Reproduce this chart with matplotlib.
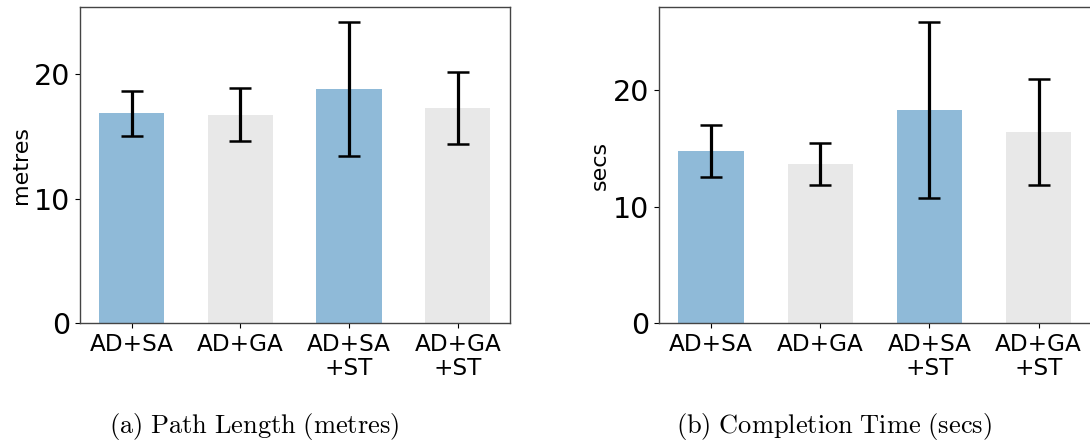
import matplotlib
matplotlib.use("Agg")
import matplotlib.pyplot as plt
import numpy as np

# Conditions compared in both panels
conditions = ["AD+SA", "AD+GA", "AD+SA\n+ST", "AD+GA\n+ST"]

# Path length (metres): mean and standard deviation
path_mean = [16.85, 16.75, 18.8, 17.3]
path_std = [1.8, 2.1, 5.4, 2.9]

# Completion time (secs): mean and standard deviation
time_mean = [14.75, 13.65, 18.3, 16.4]
time_std = [2.22, 1.8, 7.55, 4.55]

bar_colors = ["#8fbad8", "#e8e8e8", "#8fbad8", "#e8e8e8"]

W, H = 1090, 443
fig = plt.figure(figsize=(W / 100, H / 100), dpi=100)
plt.rcParams["mathtext.fontset"] = "cm"


def px_axes(left, top, right, bottom):
    return fig.add_axes([left / W, 1 - bottom / H, (right - left) / W, (bottom - top) / H])


def draw_panel(ax, means, stds, ylabel):
    x = np.arange(len(conditions))
    ax.bar(x, means, width=0.6, color=bar_colors, yerr=stds,
           error_kw=dict(ecolor="black", elinewidth=2.3, capsize=8, capthick=1.8))
    ax.set_xticks(x)
    ax.set_xticklabels(conditions, fontsize=16.7, linespacing=1.05)
    ax.tick_params(axis="y", labelsize=20.5)
    ax.set_yticks([0, 10, 20])
    ax.set_ylabel(ylabel, fontsize=16, labelpad=2)
    for s in ax.spines.values():
        s.set_color("#444444")
        s.set_linewidth(1.0)


ax1 = px_axes(79.5, 6.7, 510, 323.3)
draw_panel(ax1, path_mean, path_std, "metres")

ax2 = px_axes(658.7, 6.7, 1091, 323.3)
draw_panel(ax2, time_mean, time_std, "secs")

fig.text(254 / W, 1 - 427 / H, r"$\mathrm{(a)\ Path\ Length\ (metres)}$",
         ha="center", va="center", fontsize=19)
fig.text(833.5 / W, 1 - 427 / H, r"$\mathrm{(b)\ Completion\ Time\ (secs)}$",
         ha="center", va="center", fontsize=19)

fig.savefig("out.png", dpi=100)
